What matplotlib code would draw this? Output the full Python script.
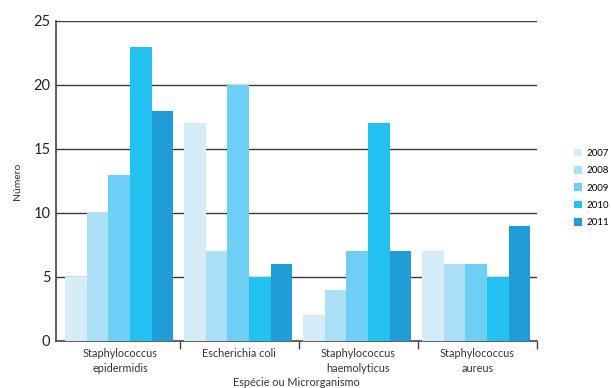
import matplotlib
matplotlib.use("Agg")
import matplotlib.pyplot as plt
import numpy as np

plt.rcParams['font.family'] = ['Lato', 'DejaVu Sans']

categories = ["Staphylococcus\nepidermidis", "Escherichia coli",
              "Staphylococcus\nhaemolyticus", "Staphylococcus\naureus"]
years = ["2007", "2008", "2009", "2010", "2011"]
values = {
    "2007": [5, 17, 2, 7],
    "2008": [10, 7, 4, 6],
    "2009": [13, 20, 7, 6],
    "2010": [23, 5, 17, 5],
    "2011": [18, 6, 7, 9],
}
colors = ["#d5ecf9", "#aadff6", "#6dcff6", "#22c1ef", "#209dd8"]

W, H = 611, 388
fig = plt.figure(figsize=(W / 100, H / 100), dpi=100)
left_px, right_px, top_px, bot_px = 56, 537, 21, 341
ax = fig.add_axes([left_px / W, 1 - bot_px / H,
                   (right_px - left_px) / W, (bot_px - top_px) / H])

n = len(years)
group_w = 0.91
bw = group_w / n
centers = np.arange(len(categories)) + 0.5 - 0.01
for k, (yr, col) in enumerate(zip(years, colors)):
    xs = centers - group_w / 2 + bw * (k + 0.5)
    ax.bar(xs, values[yr], width=bw, color=col, label=yr, zorder=3, linewidth=0)

ax.set_xlim(-0.04, len(categories))
ax.set_ylim(0, 25)
ax.set_yticks([0, 5, 10, 15, 20, 25])
for yv in [5, 10, 15, 20, 25]:
    ax.axhline(yv, color="#3a3a3a", linewidth=1.0, zorder=1)

ax.set_xticks(np.arange(1, len(categories) + 1))
ax.set_xticklabels([])
ax.set_xticks(np.arange(len(categories)) + 0.5, minor=True)
ax.set_xticklabels(categories, minor=True, fontsize=7.8, color="#333333",
                   linespacing=1.45)
ax.tick_params(axis="x", which="major", length=6, width=1, color="#444444", direction="out")
ax.tick_params(axis="x", which="minor", length=0, pad=5)
ax.tick_params(axis="y", length=0, labelsize=10.5, pad=4, labelcolor="#222222")

for s in ["top", "right"]:
    ax.spines[s].set_visible(False)
for s in ["left", "bottom"]:
    ax.spines[s].set_color("#444444")
    ax.spines[s].set_linewidth(1.2)

ax.set_ylabel("Número", fontsize=7.5, color="#333333", labelpad=8)
ax.set_xlabel("Espécie ou Microrganismo", fontsize=7.8, color="#333333", labelpad=2)

handles, labels = ax.get_legend_handles_labels()
fig.legend(handles, labels, loc="center left",
           bbox_to_anchor=(574 / W, 1 - 188 / H), frameon=False,
           fontsize=7, handlelength=0.8, handleheight=0.8,
           handletextpad=0.5, labelspacing=0.85,
           borderpad=0, borderaxespad=0)

fig.savefig("out.png", dpi=100)
